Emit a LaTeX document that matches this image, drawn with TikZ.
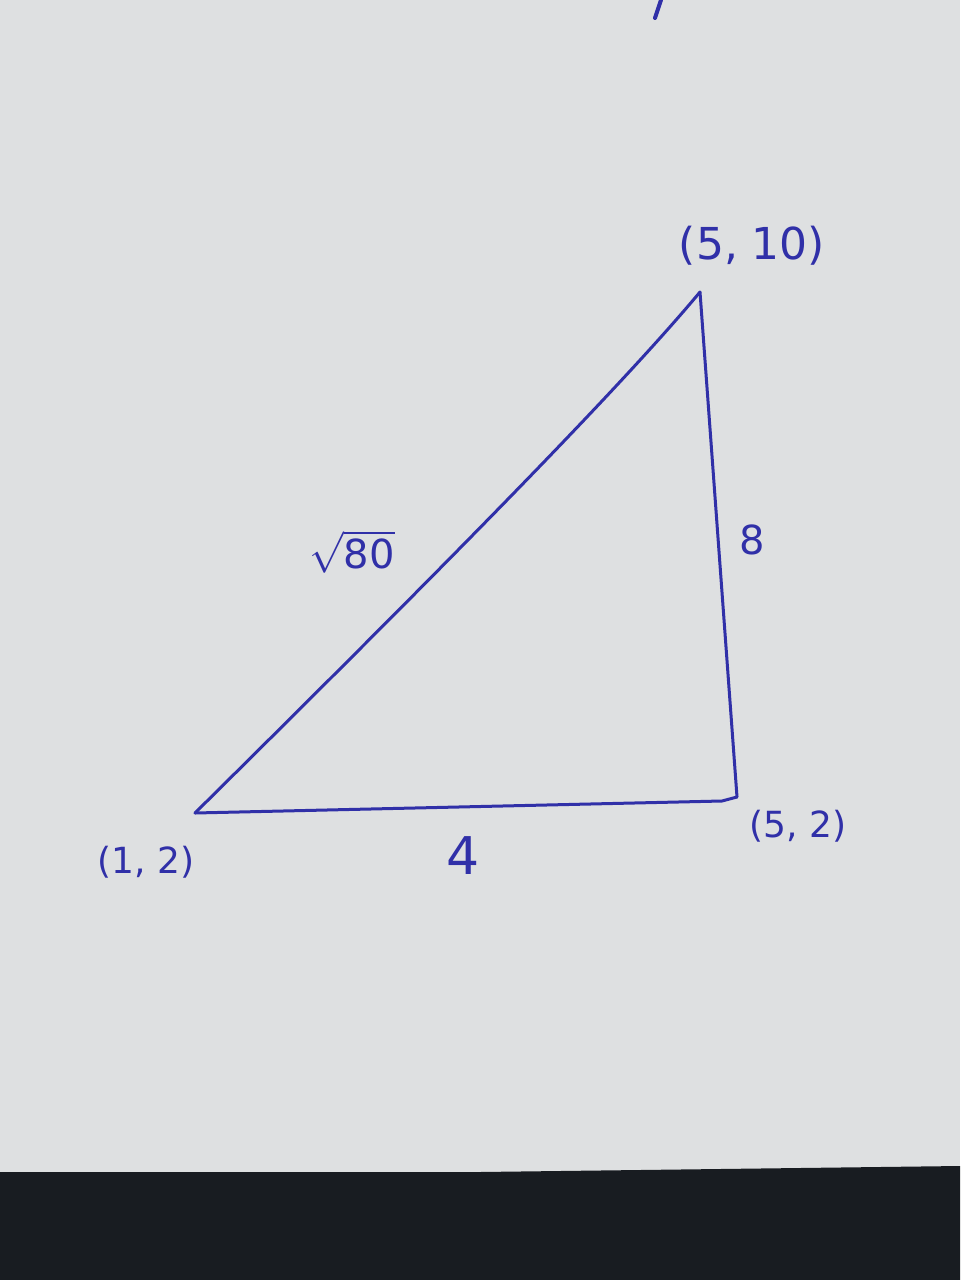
\documentclass[tikz,border=0pt]{standalone}
\usepackage{fontspec}
\setmainfont{DejaVu Sans}
\definecolor{paper}{RGB}{222,224,225}
\definecolor{desk}{RGB}{24,28,33}
\definecolor{ink}{RGB}{48,48,168}
\begin{document}
\begin{tikzpicture}[x=0.5pt,y=-0.5pt,
  edge/.style={draw=ink,line width=1.5pt,line cap=round,line join=round},
  lbl/.style={text=ink,inner sep=0pt,font=\fontsize{18}{20}\selectfont}]
\useasboundingbox (0,0) rectangle (960,1280);
\fill[paper] (0,0) rectangle (960,1280);
\fill[desk] (0,1172) -- (480,1172) -- (960,1166) -- (960,1280) -- (0,1280) -- cycle;
% stray stroke at top
\coordinate (t1) at (661,0);
\coordinate (t2) at (655,18);
\draw[edge,line width=2pt] (t1) -- (t2);
% vertices
\coordinate (A) at (195,813);
\coordinate (B) at (737,797);
\coordinate (Bk) at (722,801);
\coordinate (C) at (700,292);
% edges
\draw[edge] (A) -- (Bk) -- (B);
\draw[edge] (B) -- (C);
\draw[edge] (A) .. controls (400,610) and (610,400) .. (C);
% labels
\node[lbl,font=\fontsize{22}{24}\selectfont] (lC) at (752,246) {(5, 10)};
\node[lbl] (lB) at (798,826) {(5, 2)};
\node[lbl] (lA) at (146,862) {(1, 2)};
\node[lbl,font=\fontsize{20}{22}\selectfont] (lh) at (352,552) {$\sqrt{\mbox{80}}$};
\node[lbl,font=\fontsize{20}{22}\selectfont] (lv) at (752,540) {8};
\node[lbl,font=\fontsize{26}{28}\selectfont] (lb) at (463,856) {4};
\end{tikzpicture}
\end{document}
